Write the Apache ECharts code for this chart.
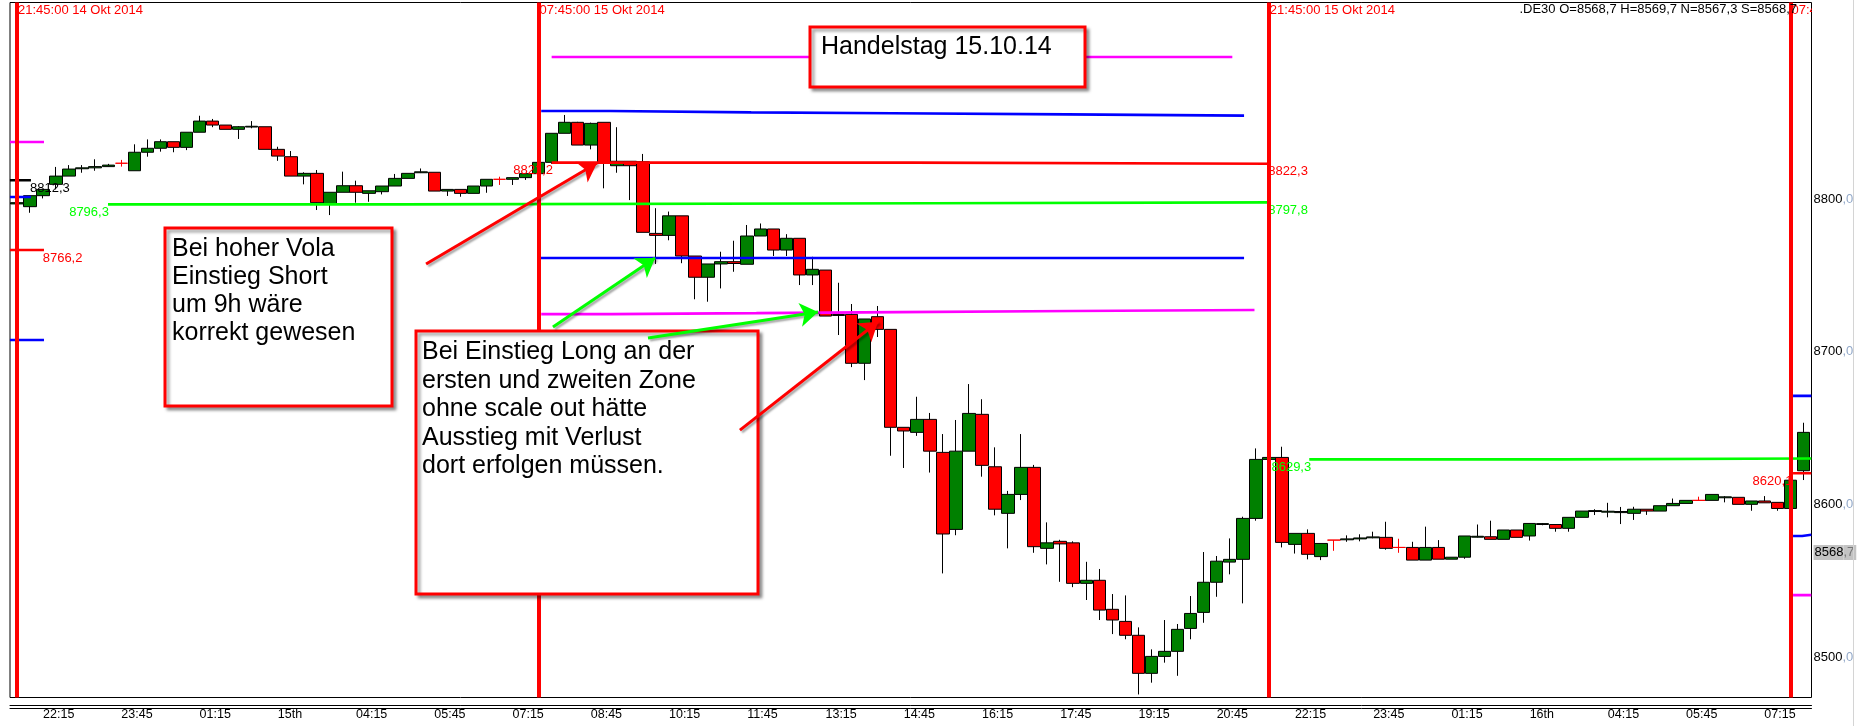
<!DOCTYPE html>
<html><head><meta charset="utf-8">
<script src="https://cdn.jsdelivr.net/npm/echarts@6/dist/echarts.min.js"></script>
<style>html,body{margin:0;padding:0;background:#fff}#c{width:1857px;height:726px}</style>
</head><body><div id="c"></div>
<script>
// ---------------- DATA ----------------
// 15-minute candles, index k = 0 is 14 Okt 2014 21:45. Row = [open, close, low, high]
const candles = [
[8796.8,8797.6,8796.0,8798.0],[8795.0,8802.2,8791.0,8802.2],[8802.2,8806.3,8800.4,8806.3],[8809.6,8815.0,8806.3,8821.0],
[8815.0,8819.6,8815.0,8822.2],[8819.8,8820.4,8817.2,8822.2],[8820.4,8821.2,8818.5,8826.0],[8821.2,8822.2,8821.0,8823.0],
[8823.4,8823.4,8821.2,8825.6],[8818.5,8830.6,8818.5,8835.8],[8830.6,8833.2,8827.7,8839.0],[8833.2,8837.5,8831.0,8839.0],
[8837.5,8833.8,8830.6,8837.5],[8833.8,8843.7,8832.0,8843.7],[8843.7,8851.0,8843.7,8854.5],[8851.0,8848.4,8847.0,8852.4],
[8848.4,8845.6,8845.6,8848.4],[8845.6,8847.3,8839.3,8847.7],[8847.1,8847.6,8846.3,8851.0],[8847.3,8832.5,8832.5,8847.3],
[8832.5,8828.1,8825.0,8834.2],[8827.7,8815.0,8815.0,8831.4],[8815.0,8816.8,8809.6,8817.5],[8816.8,8797.6,8792.8,8819.0],
[8796.7,8804.4,8789.5,8804.4],[8804.4,8808.7,8804.4,8817.9],[8808.7,8804.4,8797.6,8812.0],[8803.7,8805.4,8798.2,8805.4],
[8804.8,8808.5,8803.0,8808.5],[8808.5,8813.5,8808.5,8816.4],[8813.5,8816.8,8813.5,8816.8],[8817.2,8817.8,8817.0,8820.0],
[8817.5,8805.2,8805.2,8817.5],[8805.2,8806.3,8802.0,8806.3],[8806.3,8803.7,8801.5,8806.3],[8803.7,8808.5,8803.7,8808.5],
[8808.5,8812.9,8804.1,8812.9],[8812.9,8812.9,8809.2,8814.6],[8812.9,8814.0,8809.2,8814.0],[8814.0,8816.6,8812.5,8816.6],
[8816.6,8824.0,8815.0,8824.0],[8824.0,8843.0,8823.0,8843.0],[8843.0,8850.2,8843.0,8855.0],[8850.2,8835.3,8835.3,8850.5],
[8835.3,8849.5,8832.5,8850.0],[8850.2,8823.8,8807.0,8850.2],[8821.8,8824.7,8817.2,8847.0],[8824.7,8821.8,8799.3,8824.7],
[8824.4,8778.2,8778.2,8829.5],[8777.5,8776.2,8757.5,8794.0],[8776.2,8789.0,8773.0,8791.8],[8789.0,8762.7,8758.0,8789.0],
[8762.7,8748.8,8734.4,8762.7],[8748.8,8757.5,8732.8,8757.5],[8757.5,8759.0,8741.5,8765.5],[8759.0,8757.8,8752.4,8772.7],
[8757.3,8775.8,8757.3,8783.0],[8775.8,8780.4,8775.8,8784.0],[8780.4,8766.6,8762.7,8780.4],[8766.6,8774.3,8762.7,8777.0],
[8774.3,8750.3,8743.7,8774.3],[8750.3,8754.0,8743.7,8762.2],[8753.5,8723.4,8723.4,8753.5],[8724.4,8723.8,8711.0,8745.2],
[8724.5,8692.5,8690.0,8731.3],[8692.5,8721.5,8681.5,8721.5],[8723.0,8714.7,8709.7,8730.0],[8714.7,8650.6,8632.0,8714.7],
[8650.6,8648.2,8624.0,8650.6],[8647.3,8655.8,8645.0,8670.6],[8655.8,8635.0,8621.0,8660.0],[8634.2,8580.8,8555.0,8646.2],
[8583.8,8635.0,8580.0,8655.4],[8635.0,8659.7,8635.0,8678.9],[8659.1,8625.7,8618.3,8669.0],[8624.8,8597.0,8593.0,8637.5],
[8594.3,8606.7,8571.4,8609.0],[8606.7,8624.4,8603.0,8646.2],[8624.4,8572.5,8568.5,8626.0],[8571.4,8575.0,8560.9,8588.4],
[8576.0,8574.3,8549.5,8577.0],[8575.0,8548.5,8546.0,8576.0],[8548.5,8550.5,8537.6,8562.6],[8550.5,8531.0,8524.5,8557.9],
[8531.5,8524.5,8515.3,8541.5],[8523.6,8514.5,8511.9,8540.6],[8514.5,8489.6,8475.8,8519.7],[8489.6,8500.7,8483.5,8505.3],
[8500.7,8504.0,8496.6,8524.5],[8504.0,8518.4,8488.0,8521.9],[8519.0,8528.8,8511.9,8540.2],[8529.5,8549.2,8522.7,8569.0],
[8549.2,8563.0,8539.7,8566.4],[8562.4,8564.2,8554.4,8577.9],[8564.2,8591.0,8535.4,8592.1],[8591.0,8629.6,8589.5,8636.8],
[8629.6,8630.9,8629.0,8631.0],[8630.9,8575.3,8572.0,8637.9],[8574.0,8581.2,8568.0,8581.2],[8581.2,8567.5,8564.2,8583.8],
[8566.0,8574.6,8563.7,8574.6],[8576.8,8576.8,8569.8,8576.8],[8577.0,8577.6,8575.7,8579.9],[8577.6,8578.2,8576.0,8580.6],
[8578.3,8578.9,8578.0,8582.3],[8578.6,8571.4,8570.5,8588.8],[8572.0,8572.0,8568.5,8577.7],[8572.0,8563.7,8563.7,8575.7],
[8563.7,8572.0,8563.7,8585.6],[8572.0,8564.3,8564.3,8576.8],[8564.3,8565.6,8564.3,8565.6],[8565.6,8579.5,8564.6,8579.5],
[8578.7,8579.3,8578.5,8587.0],[8579.0,8577.3,8577.3,8589.5],[8577.3,8583.4,8577.3,8583.4],[8583.4,8578.6,8578.6,8583.4],
[8579.5,8587.7,8576.5,8587.7],[8587.0,8587.6,8586.5,8588.0],[8587.0,8584.5,8582.3,8587.0],[8584.5,8591.7,8582.3,8591.7],
[8591.7,8595.8,8591.7,8595.8],[8595.5,8596.1,8593.2,8597.0],[8595.1,8595.7,8591.7,8601.2],[8594.8,8595.5,8587.3,8598.5],
[8594.3,8597.0,8590.0,8598.6],[8597.0,8595.8,8593.3,8597.0],[8595.8,8599.3,8595.8,8599.3],[8599.3,8600.8,8599.3,8604.0],
[8600.8,8602.8,8600.8,8602.8],[8602.8,8602.8,8602.8,8605.2],[8602.8,8606.7,8602.8,8606.7],[8604.5,8605.1,8601.5,8605.6],
[8604.8,8600.2,8600.2,8604.8],[8600.2,8602.4,8596.0,8602.4],[8602.4,8601.2,8601.2,8605.6],[8601.5,8597.5,8596.0,8601.5],
[8597.5,8616.0,8597.5,8616.0],[8622.2,8647.3,8616.1,8653.6]
];

const xTickIdx = [2,8,14,20,26,32,38,44,50,56,62,68,74,80,86,92,98,104,110,116,122,128,134];
const xTickLabels = ['22:15','23:45','01:15','15th','04:15','05:45','07:15','08:45','10:15','11:45','13:15','14:45',
  '16:15','17:45','19:15','20:45','22:15','23:45','01:15','16th','04:15','05:45','07:15'];
const yTickValues = [8500, 8600, 8700, 8800];
const lastPrice = 8568.7;
const quoteText = '.DE30 O=8568,7 H=8569,7 N=8567,3 S=8568,7';

const sessionStarts = [0, 40, 96, 136];
const sessionTexts = ['21:45:00 14 Okt 2014', '07:45:00 15 Okt 2014', '21:45:00 15 Okt 2014', '07:45:00 16 Okt 2014'];

// pivot level lines, each a stepped polyline of [candle index, price]
const magentaLevels = [
  [[-0.54, 8837.3], [2.07, 8837.3]],
  [[41.0, 8892.9], [93.2, 8892.9]],
  [[40.2, 8724.7], [45.6, 8725.3], [56.7, 8726.0], [67.6, 8726.7], [81.0, 8727.4], [94.9, 8727.4]],
  [[136.2, 8540.8], [137.6, 8540.8]]
];
const blueLevels = [
  [[-0.54, 8801.3], [1.07, 8801.3]],
  [[-0.54, 8707.7], [2.07, 8707.7]],
  [[40.2, 8857.6], [45.5, 8856.7], [56.3, 8856.1], [67.1, 8855.4], [80.5, 8854.6], [94.1, 8854.6]],
  [[40.1, 8761.4], [94.1, 8761.4]],
  [[136.2, 8671.2], [137.6, 8671.2]],
  [[136.2, 8579.5], [136.9, 8580.3], [137.6, 8580.3]]
];
const redLevels = [
  [[-0.54, 8766.6], [2.07, 8766.6]],
  [[41.0, 8823.8], [68.6, 8823.1], [96.0, 8823.1]],
  [[136.2, 8620.5], [137.6, 8620.5]]
];
const greenLevels = [
  [[6.98, 8796.5], [29.3, 8797.2], [70.0, 8797.8], [96.0, 8797.8]],
  [[99.1, 8629.6], [118.4, 8630.2], [137.6, 8630.2]]
];
const blackLevels = [
  [[-0.54, 8812.3], [1.07, 8812.3]]
];

// level labels: [candle index of text start, price of its line, shown value]
const blackLabels = [[1.0, 8812.3, 8812.3]];
const greenLabels = [[4.0, 8796.5, 8796.3], [95.95, 8797.8, 8797.8], [96.2, 8629.6, 8629.3]];
const redLabels = [[1.97, 8766.6, 8766.2], [38.05, 8823.8, 8821.2], [95.95, 8823.1, 8822.3], [133.1, 8620.5, 8620.1]];

// annotation arrows: [[from index, price], [to index, price]]
const redArrows = [
  [[31.37, 8757.5], [44.48, 8823.6]],
  [[55.44, 8648.8], [66.03, 8719.7]]
];
const greenArrows = [
  [[41.1, 8716.2], [48.93, 8761.4]],
  [[48.39, 8709.0], [61.43, 8726.0]]
];

const noteTexts = [
  'Handelstag 15.10.14',
  'Bei hoher Vola\nEinstieg Short\num 9h wäre\nkorrekt gewesen',
  'Bei Einstieg Long an der\nersten und zweiten Zone\nohne scale out hätte\nAusstieg mit Verlust\ndort erfolgen müssen.'
];

// ---------------- CHART ----------------
const FONT = '"Liberation Sans", Arial, Helvetica, sans-serif';
const RED = '#ff0000', GREEN = '#008000', LGREEN = '#00ff00', BLUE = '#0000ff', MAG = '#ff00ff';
const X_MIN = -0.537, X_MAX = 137.616, Y_MIN = 8473.8, Y_MAX = 8928.6;
const fmt = v => v.toFixed(1).replace('.', ',');

const chart = echarts.init(document.getElementById('c'), null, {renderer: 'canvas'});

function levelSeries(list, color) {
  return list.map(pts => ({
    type: 'line', data: pts, step: 'end', showSymbol: false, symbol: 'none', silent: true,
    z: 3, animation: false, lineStyle: {color: color, width: 2.6}, emphasis: {disabled: true}
  }));
}
function labelSeries(list, color) {
  return {
    type: 'custom', z: 4, silent: true, animation: false,
    data: list.map(d => [d[0], d[1], d[2]]),
    renderItem: (params, api) => {
      const p = api.coord([api.value(0), api.value(1)]);
      return {type: 'text', x: p[0], y: p[1] + 8,
        style: {text: fmt(api.value(2)), fill: color, font: '13px ' + FONT,
          align: 'left', verticalAlign: 'middle', textAlign: 'left', textVerticalAlign: 'middle'}};
    }
  };
}
function arrowSeries(list, color) {
  return {
    type: 'line', data: [], silent: true, animation: false,
    markLine: {
      silent: true, animation: false, z: 60, symbol: ['none', 'arrow'], symbolSize: 18,
      label: {show: false}, emphasis: {disabled: true},
      itemStyle: {color: color},
      lineStyle: {color: color, width: 3, type: 'solid', shadowColor: 'rgba(0,0,0,0.35)', shadowBlur: 2, shadowOffsetX: 2, shadowOffsetY: 2},
      data: list.map(a => [{coord: a[0]}, {coord: a[1]}])
    }
  };
}

const candleData = candles.map((c, k) => {
  const item = {value: [k, c[0], c[1], c[2], c[3]]};
  if (c[0] === c[1]) item.itemStyle = {borderColor: RED, borderColor0: RED, borderColorDoji: RED};
  return item;
});

const series = [
  {
    type: 'candlestick', data: candleData, barWidth: 13, z: 2, silent: true, animation: false,
    itemStyle: {color: GREEN, color0: RED, borderColor: '#000', borderColor0: '#000', borderColorDoji: '#000', borderWidth: 1},
    markLine: {
      silent: true, animation: false, symbol: 'none', z: 5, label: {show: false},
      lineStyle: {color: RED, width: 4, type: 'solid'},
      data: sessionStarts.map(k => ({xAxis: k}))
    }
  },
  ...levelSeries(magentaLevels, MAG),
  ...levelSeries(blueLevels, BLUE),
  ...levelSeries(redLevels, RED),
  ...levelSeries(greenLevels, LGREEN),
  ...levelSeries(blackLevels, '#000'),
  labelSeries(blackLabels, '#000'),
  labelSeries(greenLabels, LGREEN),
  labelSeries(redLabels, RED),
  {
    type: 'custom', z: 4, silent: true, clip: true, animation: false,
    data: sessionStarts.map(k => [k, Y_MAX]),
    renderItem: (params, api) => {
      const p = api.coord([api.value(0), api.value(1)]);
      return {type: 'text', x: p[0] + 1, y: p[1] + 8.3,
        style: {text: sessionTexts[params.dataIndex], fill: RED, font: '13px ' + FONT,
          align: 'left', verticalAlign: 'middle', textAlign: 'left', textVerticalAlign: 'middle'}};
    }
  },
  arrowSeries(redArrows, RED),
  arrowSeries(greenArrows, LGREEN)
];

function noteBox(x, y, w, h, z) {
  return {type: 'rect', z: z, silent: true, shape: {x: x, y: y, width: w, height: h},
    style: {fill: '#fff', stroke: RED, lineWidth: 3, shadowColor: 'rgba(0,0,0,0.35)', shadowBlur: 3, shadowOffsetX: 3, shadowOffsetY: 3}};
}
function noteText(x, y, text, lh, z) {
  return {type: 'text', z: z, silent: true, x: x, y: y,
    style: {text: text, fill: '#000', font: '25px ' + FONT, lineHeight: lh,
      align: 'left', verticalAlign: 'top', textAlign: 'left', textVerticalAlign: 'top'}};
}

const option = {
  animation: false,
  backgroundColor: '#fff',
  title: {text: quoteText, right: 60, top: 3, padding: 0,
    textStyle: {fontFamily: FONT, fontSize: 13, fontWeight: 'normal', color: '#000'}},
  grid: {left: 10, right: 45.5, top: 2.5, bottom: 28.5, show: true, borderColor: '#000', borderWidth: 1,
    backgroundColor: '#fff', outerBoundsMode: 'none', containLabel: false},
  xAxis: [
    {type: 'value', min: X_MIN, max: X_MAX, position: 'bottom',
      splitLine: {show: false}, axisTick: {show: false}, axisLine: {show: false},
      axisLabel: {customValues: xTickIdx, formatter: v => xTickLabels[xTickIdx.indexOf(v)] || '',
        align: 'left', margin: 11, color: '#000', fontSize: 12.5, fontFamily: FONT}},
    {type: 'value', min: X_MIN, max: X_MAX, position: 'bottom', offset: 7.5,
      axisLine: {show: true, lineStyle: {color: '#000', width: 1}}, axisTick: {show: false},
      axisLabel: {show: false}, splitLine: {show: false}},
    {type: 'value', min: X_MIN, max: X_MAX, position: 'bottom', offset: 10.8,
      axisLine: {show: true, lineStyle: {color: '#000', width: 1}}, axisTick: {show: false},
      axisLabel: {show: false}, splitLine: {show: false}}
  ],
  yAxis: {
    type: 'value', position: 'right', min: Y_MIN, max: Y_MAX,
    splitLine: {show: false}, axisTick: {show: false}, axisLine: {show: false},
    axisLabel: {
      customValues: yTickValues.concat([lastPrice]), margin: 2, fontFamily: FONT, fontSize: 13,
      formatter: v => {
        const s = fmt(v).split(',');
        if (Math.abs(v - lastPrice) < 0.01) return '{g|' + s[0] + '}{gd|,' + s[1] + '}';
        return '{n|' + s[0] + '}{d|,' + s[1] + '}';
      },
      rich: {
        n: {color: '#000', fontSize: 13, fontFamily: FONT},
        d: {color: '#93a9c9', fontSize: 13, fontFamily: FONT},
        g: {color: '#000', fontSize: 13, fontFamily: FONT, backgroundColor: '#c3c3c3', padding: [1, 0, 1, 1], lineHeight: 15},
        gd: {color: '#777', fontSize: 13, fontFamily: FONT, backgroundColor: '#c3c3c3', padding: [1, 2, 1, 0], lineHeight: 15}
      }
    }
  },
  series: series,
  graphic: [
    noteBox(810, 27, 275, 60, 50),
    noteText(821, 33, noteTexts[0], 28, 51),
    noteBox(165, 228, 227, 178, 50),
    noteText(172, 235, noteTexts[1], 28, 51),
    noteBox(416, 331, 342, 263, 50),
    noteText(422, 338, noteTexts[2], 28.5, 51),
    {type: 'line', z: 1, silent: true, shape: {x1: 1853.5, y1: 0, x2: 1853.5, y2: 726}, style: {stroke: '#d4d4d4', lineWidth: 1}}
  ]
};
chart.setOption(option);
</script>
</body></html>
